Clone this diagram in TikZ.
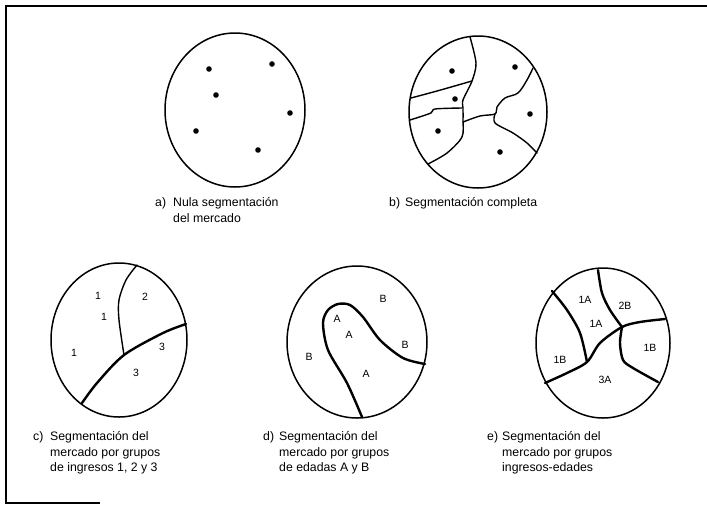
\documentclass[tikz,border=0pt]{standalone}
\usepackage{fontspec}
\setmainfont{Liberation Sans}
\begin{document}
\begin{tikzpicture}[x=1pt,y=-1pt,
  circ/.style={line width=1.5pt},
  seg/.style={line width=1.4pt, line join=round, line cap=round},
  heavyseg/.style={line width=2.4pt, line join=round, line cap=round},
  mdot/.style={fill=black},
  captxt/.style={font=\fontsize{12.3}{15.8}\selectfont, align=left, anchor=north west, inner sep=0pt},
  lbl/.style={font=\fontsize{10.5}{12}\selectfont, inner sep=0pt}]
\useasboundingbox (0,0) rectangle (707,504);
% frame
\draw[line width=1.6pt] (100,503) -- (6,503) -- (6,6) -- (707,6);

% a) no segmentation
\draw[circ] (235,110) ellipse [x radius=70, y radius=77];
\foreach \p in {(209,69),(272,64),(216,95),(290,113),(196,131),(258,150)}
  \fill[mdot] \p circle [radius=2.8pt];

% b) complete segmentation
\draw[circ] (478,112) ellipse [x radius=69, y radius=76];
\foreach \p in {(452,71),(515,67),(455,99),(530,114),(438,131),(500,152)}
  \fill[mdot] \p circle [radius=2.8pt];
\draw[seg] plot[smooth, tension=0.5] coordinates {(470,37) (476,63) (472,81) (463,100) (463,108) (463,120) (462,137) (447,153) (428,164)};
\draw[seg] plot[smooth, tension=0.5] coordinates {(411,98) (437,91) (472,81)};
\draw[seg] plot[smooth, tension=0.5] coordinates {(410,120) (431,113) (435,109) (462,108)};
\draw[seg] plot[smooth, tension=0.5] coordinates {(463,122) (480,116) (495,114) (497,107) (505,98) (518,93) (527,80) (533,68)};
\draw[seg] plot[smooth, tension=0.5] coordinates {(495,114) (495,123) (513,133) (527,143) (537,153)};

% c) income groups
\draw[circ] (119,340) ellipse [x radius=68, y radius=77];
\draw[seg] plot[smooth, tension=0.5] coordinates {(137,265) (126,280) (119,300) (119,320) (124,355)};
\draw[heavyseg] plot[smooth, tension=0.5] coordinates {(186,324) (163,333) (124,355) (97,383) (82,403)};
\node[lbl] (c1) at (98,296) {1};
\node[lbl] (c2) at (145,297) {2};
\node[lbl] (c3) at (104,317) {1};
\node[lbl] (c4) at (74,353) {1};
\node[lbl] (c5) at (162,347) {3};
\node[lbl] (c6) at (136,373) {3};

% d) age groups
\draw[circ] (357,342) ellipse [x radius=70, y radius=76];
\draw[heavyseg] plot[smooth, tension=0.5] coordinates {(425,364) (403,358) (380,340) (363,317) (350,305) (338,304) (328,310) (323,323) (328,350) (347,383) (362,417)};
\node[lbl] (d1) at (383,299) {B};
\node[lbl] (d2) at (337,319) {A};
\node[lbl] (d3) at (349,335) {A};
\node[lbl] (d4) at (405,345) {B};
\node[lbl] (d5) at (309,357) {B};
\node[lbl] (d6) at (366,374) {A};

% e) income-age groups
\draw[circ] (603,343) ellipse [x radius=67, y radius=75];
\draw[heavyseg] plot[smooth, tension=0.5] coordinates {(552,291) (567,310) (580,333) (587,362)};
\draw[heavyseg] plot[smooth, tension=0.5] coordinates {(598,270) (602,293) (610,310) (622,327)};
\draw[heavyseg] plot[smooth, tension=0.5] coordinates {(545,383) (567,373) (587,362) (600,343) (622,327) (640,322) (665,319)};
\draw[heavyseg] plot[smooth, tension=0.5] coordinates {(622,327) (620,343) (623,360) (633,368) (658,382)};
\node[lbl] (e1) at (585,300) {1A};
\node[lbl] (e2) at (625,306) {2B};
\node[lbl] (e3) at (596,324) {1A};
\node[lbl] (e4) at (650,348) {1B};
\node[lbl] (e5) at (560,360) {1B};
\node[lbl] (e6) at (605,380) {3A};

% captions
\node[captxt] (ta) at (155,197) {a)};
\node[captxt] (tat) at (173,197) {Nula segmentación\\del mercado};
\node[captxt] (tb) at (389,197) {b)};
\node[captxt] (tbt) at (405,197) {Segmentación completa};
\node[captxt] (tc) at (33,431) {c)};
\node[captxt] (tct) at (50,431) {Segmentación del\\mercado por grupos\\de ingresos 1, 2 y 3};
\node[captxt] (td) at (263,431) {d)};
\node[captxt] (tdt) at (279,431) {Segmentación del\\mercado por grupos\\de edadas A y B};
\node[captxt] (te) at (487,431) {e)};
\node[captxt] (tet) at (502,431) {Segmentación del\\mercado por grupos\\ingresos-edades};
\end{tikzpicture}
\end{document}
